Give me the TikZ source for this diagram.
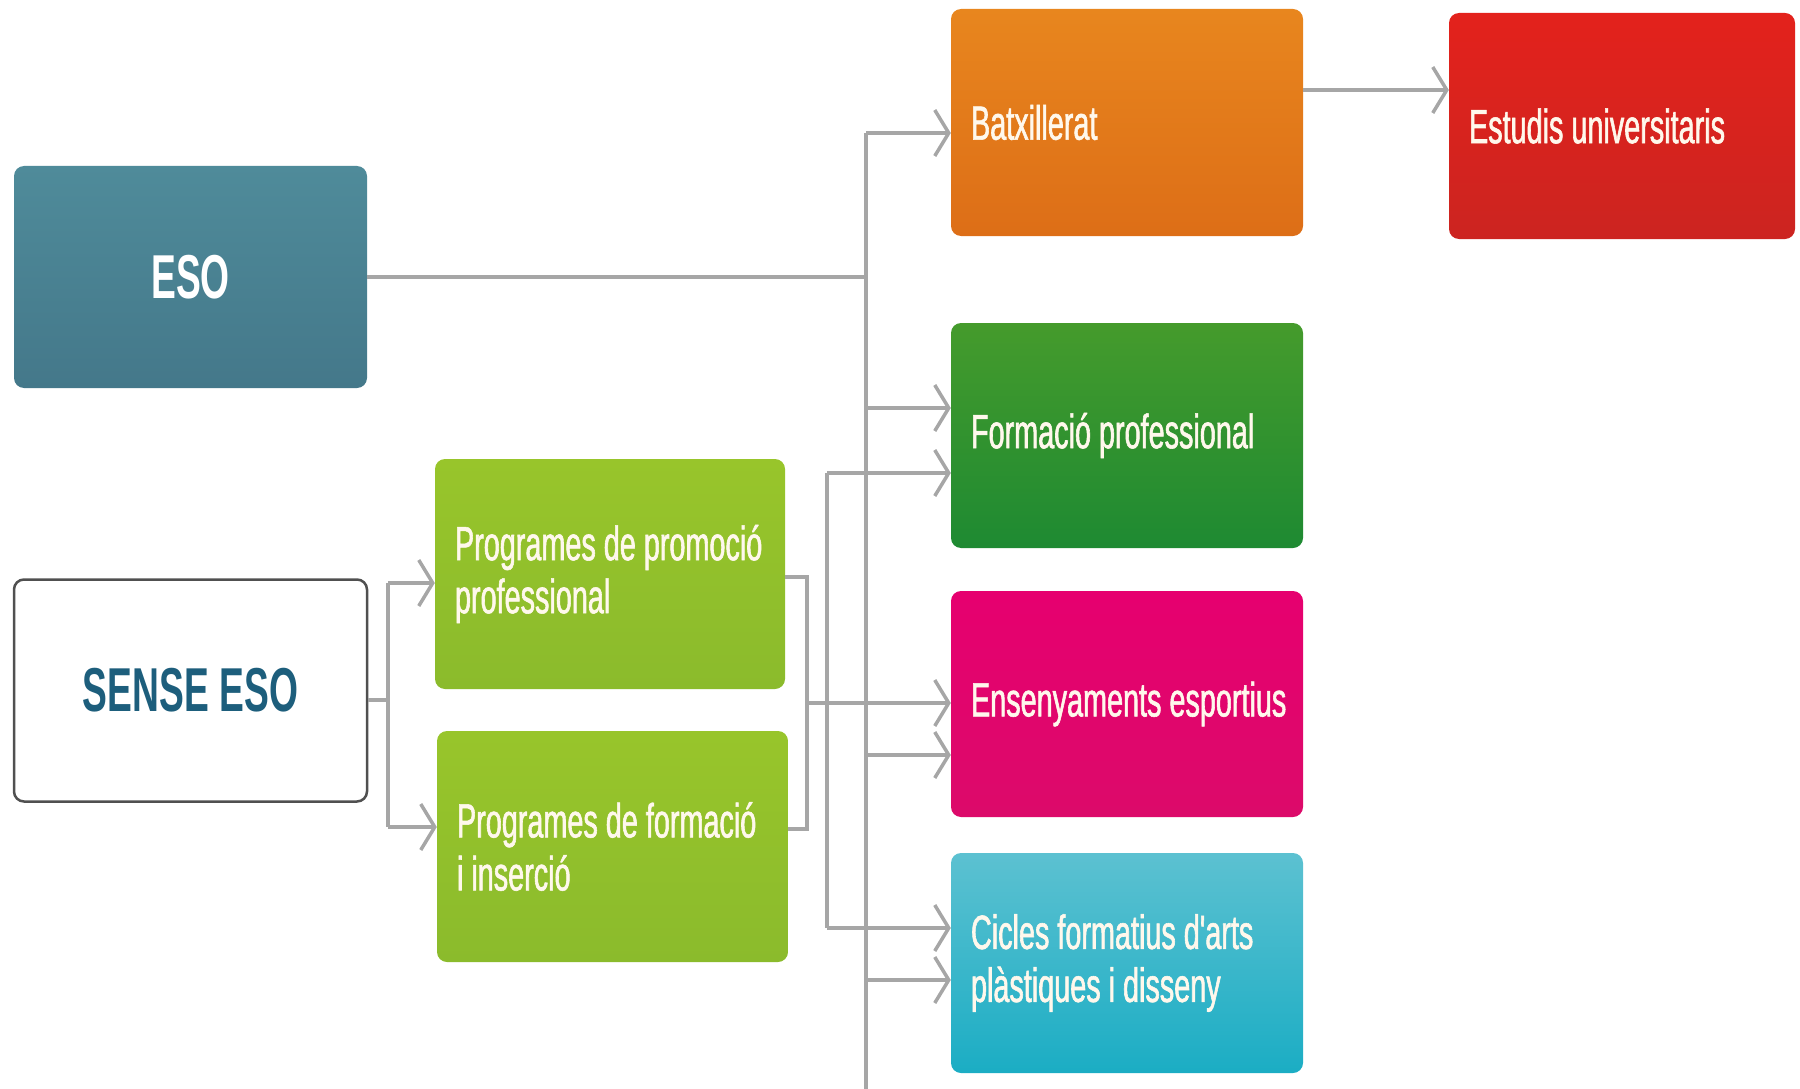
\documentclass[tikz,border=0pt]{standalone}
\usepackage{fontspec}
\setmainfont{Liberation Sans}
\newfontfamily\labfont[FakeStretch=0.6,FakeBold=1.2]{Liberation Sans}
\newfontfamily\headfont[FakeStretch=0.6]{Liberation Sans}
\newcommand\labspace{\spaceskip=8pt plus 2pt minus 1pt\relax\xspaceskip=\spaceskip}
\usetikzlibrary{arrows.meta}
\definecolor{esoTop}{HTML}{4F8B9A}
\definecolor{esoBot}{HTML}{44788A}
\definecolor{pgTop}{HTML}{98C52B}
\definecolor{pgBot}{HTML}{8BBB2C}
\definecolor{batTop}{HTML}{E8861E}
\definecolor{batBot}{HTML}{DD6E17}
\definecolor{fpTop}{HTML}{459B2C}
\definecolor{fpBot}{HTML}{1E8A32}
\definecolor{ensTop}{HTML}{E6006F}
\definecolor{ensBot}{HTML}{DC0A6A}
\definecolor{cicTop}{HTML}{5CC1D1}
\definecolor{cicBot}{HTML}{1BADC4}
\definecolor{estTop}{HTML}{E3221C}
\definecolor{estBot}{HTML}{CC2420}
\definecolor{conn}{HTML}{A6A6A6}
\definecolor{labtext}{HTML}{FFF8EC}
\definecolor{senseText}{HTML}{1D5E7C}
\definecolor{senseBorder}{HTML}{505050}
\begin{document}
\begin{tikzpicture}[x=1pt,y=-1pt,
  box/.style={rounded corners=10pt, inner xsep=20pt, inner ysep=0pt, align=left,
    text width=312pt, minimum height=226pt, text=labtext,
    font=\labfont\fontsize{48}{53}\selectfont,
    execute at begin node=\labspace},
  headbox/.style={rounded corners=10pt, inner sep=0pt, minimum width=353pt,
    minimum height=222pt, font=\headfont\bfseries\fontsize{62}{70}\selectfont},
  link/.style={draw=conn, line width=4.5pt},
  arr/.style={link, -{Straight Barb[length=14pt,width=46pt,line width=3.5pt]}}
]
\useasboundingbox (0,0) rectangle (1800,1089);

% left column
\node[headbox, top color=esoTop, bottom color=esoBot, text=white] (eso) at (190.5,277) {ESO};
\node[headbox, fill=white, draw=senseBorder, line width=2.5pt, text=senseText] (sense) at (190.5,690.5) {SENSE ESO};

% programmes
\node[box, text width=310pt, minimum height=230pt, top color=pgTop, bottom color=pgBot] (pp) at (610,574) {\mbox{Programes de promoció}\\\mbox{professional}};
\node[box, text width=311pt, minimum height=231pt, top color=pgTop, bottom color=pgBot] (pf) at (612.5,846.5) {\mbox{Programes de formació}\\\mbox{i inserció}};

% right column
\node[box, minimum height=227pt, top color=batTop, bottom color=batBot] (bat) at (1127,122.5) {\mbox{Batxillerat}};
\node[box, minimum height=225pt, top color=fpTop, bottom color=fpBot] (fp) at (1127,435.5) {\mbox{Formació professional}};
\node[box, minimum height=226pt, top color=ensTop, bottom color=ensBot] (ens) at (1127,704) {\mbox{Ensenyaments esportius}};
\node[box, minimum height=220pt, top color=cicTop, bottom color=cicBot] (cic) at (1127,963) {\mbox{Cicles formatius d'arts}\\\mbox{plàstiques i disseny}};
\node[box, text width=306pt, minimum height=226pt, top color=estTop, bottom color=estBot] (est) at (1622,126) {\mbox{Estudis universitaris}};

% trunk coordinates
\coordinate (t1) at (866,133);
\coordinate (t1b) at (866,1089);
\coordinate (t2a) at (827,473);
\coordinate (t2b) at (827,928);
\coordinate (j) at (807,703);
\coordinate (s) at (388,700);

% ESO trunk
\draw[link] (t1) -- (t1b);
\draw[link] (eso.east) -- (eso.east -| t1);
\draw[arr] (t1) -- (t1 -| bat.west);
\draw[arr] (866,408) -- (fp.west |- 0,408);
\draw[arr] (866,755) -- (ens.west |- 0,755);
\draw[arr] (866,980) -- (cic.west |- 0,980);

% Batxillerat -> Estudis
\draw[arr] (bat.east |- 0,90) -- (est.west |- 0,90);

% SENSE ESO bracket
\draw[link] (sense.east |- s) -- (s);
\draw[link] (388,583) -- (388,827);
\draw[arr] (388,583) -- (pp.west |- 0,583);
\draw[arr] (388,827) -- (pf.west |- 0,827);

% programmes bracket
\draw[link] (pp.east |- 0,577) -- (807,577) -- (807,829) -- (pf.east |- 0,829);
\draw[arr] (j) -- (ens.west |- j);
\draw[link] (t2a) -- (t2b);
\draw[arr] (t2a) -- (fp.west |- t2a);
\draw[arr] (t2b) -- (cic.west |- t2b);
\end{tikzpicture}
\end{document}
